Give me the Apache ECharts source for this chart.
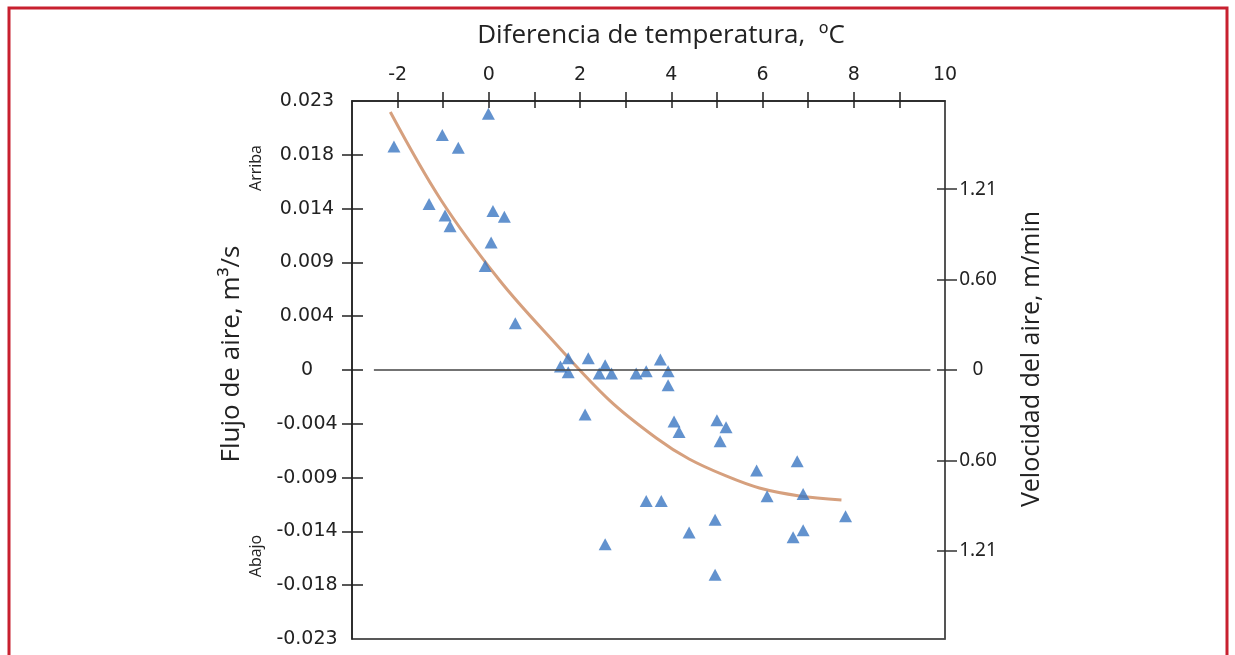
<!DOCTYPE html>
<html lang="es">
<head>
    <meta charset="UTF-8">
    <title>Flujo de aire vs diferencia de temperatura</title>
    <style>
        html, body { margin: 0; padding: 0; background: #fff; }
        #main { width: 1235px; height: 655px; }
    </style>
</head>
<body>
<div id="main"></div>

<script src="https://cdn.jsdelivr.net/npm/echarts@6/dist/echarts.min.js"></script>
<script>
    // puntos medidos (triangulos)
    var tempX = [-2.08, -1.02, -0.67, -0.01, -1.31, -0.96, -0.85, 0.09, 0.34, 0.05, -0.08, 0.58,
        1.57, 1.74, 1.74, 2.18, 2.11, 2.42, 2.55, 2.69, 3.23, 3.45, 3.76, 3.93, 3.93,
        4.06, 4.17, 5.00, 5.20, 5.07, 5.87, 6.10, 6.76, 6.89, 6.89, 6.67, 7.82,
        3.45, 3.78, 4.96, 4.39, 2.55, 4.96];
    var flujoY = [0.0191, 0.0201, 0.0190, 0.0219, 0.0142, 0.0132, 0.0123, 0.0136, 0.0131, 0.0109, 0.0089, 0.0040,
        0.0003, 0.0010, -0.0002, 0.0010, -0.0038, -0.0003, 0.0004, -0.0003, -0.0003, -0.0001, 0.0009, -0.0013, -0.0001,
        -0.0044, -0.0053, -0.0043, -0.0049, -0.0061, -0.0086, -0.0108, -0.0078, -0.0106, -0.0137, -0.0143, -0.0125,
        -0.0112, -0.0112, -0.0128, -0.0139, -0.0149, -0.0175];

    // curva de ajuste
    var curvaX = [-2.16, -1.05, 0.23, 1.39, 2.64, 3.67, 4.39, 5.20, 5.93, 6.81, 7.73];
    var curvaY = [0.02206, 0.01454, 0.00770, 0.00257, -0.00257, -0.00581,
        -0.00761, -0.00906, -0.01009, -0.01077, -0.01112];

    // ejes
    var xTicks = [-2, -1, 0, 1, 2, 3, 4, 5, 6, 7, 8, 9];
    var xLabelVals = [-2, 0, 2, 4, 6, 8, 10];
    var yLabelVals = [-0.023, -0.0184, -0.0138, -0.0092, -0.0046, 0, 0.0046, 0.0092, 0.0138, 0.0184, 0.023];
    var yLabels = ['-0.023', '-0.018', '-0.014', '-0.009', '-0.004', '0', '0.004', '0.009', '0.014', '0.018', '0.023'];
    var yTicks = [-0.0184, -0.0138, -0.0092, -0.0046, 0, 0.0046, 0.0092, 0.0138, 0.0184];
    var velVals = [-1.21, -0.605, 0, 0.605, 1.21];
    var velLabels = ['1.21', '0.60', '0', '0.60', '1.21'];

    var puntos = tempX.map(function (x, i) { return [x, flujoY[i]]; });
    var curva = curvaX.map(function (x, i) { return [x, curvaY[i]]; });

    var chartDom = document.getElementById('main');
    var myChart = echarts.init(chartDom);
    var option;

    var ink = '#222';
    var tickFont = { fontFamily: 'DejaVu Sans', fontSize: 19, color: ink };

    option = {
        animation: false,
        backgroundColor: '#fff',
        grid: {
            left: 352, right: 290, top: 101, bottom: 16,
            show: true, borderColor: ink, borderWidth: 1.5
        },
        xAxis: [
            {
                type: 'value', position: 'top', min: -3, max: 10,
                axisLine: { onZero: false, lineStyle: { color: ink, width: 1.5 } },
                axisTick: { customValues: xTicks, length: 9, lineStyle: { color: ink, width: 1.5 } },
                axisLabel: Object.assign({ customValues: xLabelVals, margin: 16 }, tickFont),
                splitLine: { show: false }
            },
            {
                type: 'value', position: 'top', min: -3, max: 10,
                axisLine: { show: false, onZero: false },
                axisTick: { customValues: xTicks, inside: true, length: 7, lineStyle: { color: ink, width: 1.5 } },
                axisLabel: { show: false },
                splitLine: { show: false }
            }
        ],
        yAxis: [
            {
                type: 'value', position: 'left', min: -0.023, max: 0.023,
                axisLine: { onZero: false, lineStyle: { color: ink, width: 1.5 } },
                axisTick: { customValues: yTicks, length: 10, lineStyle: { color: ink, width: 1.5 } },
                axisLabel: Object.assign({
                    customValues: yLabelVals, margin: 45, align: 'center',
                    formatter: function (v) {
                        return yLabels[Math.round((v + 0.023) / 0.0046)];
                    }
                }, tickFont),
                splitLine: { show: false }
            },
            {
                type: 'value', position: 'left', min: -0.023, max: 0.023,
                axisLine: { show: false, onZero: false },
                axisTick: { customValues: yTicks, inside: true, length: 11, lineStyle: { color: ink, width: 1.5 } },
                axisLabel: { show: false },
                splitLine: { show: false }
            },
            {
                type: 'value', position: 'right', min: -1.8, max: 1.8,
                axisLine: { onZero: false, lineStyle: { color: '#555', width: 1.5 } },
                axisTick: { customValues: velVals, length: 12, lineStyle: { color: '#333', width: 1.5 } },
                axisLabel: {
                    customValues: velVals, margin: 33, align: 'center',
                    fontFamily: 'Noto Sans', fontSize: 19, color: ink,
                    formatter: function (v) {
                        var i = velVals.indexOf(v);
                        return i < 0 ? '' : velLabels[i];
                    }
                },
                splitLine: { show: false }
            },
            {
                type: 'value', position: 'right', min: -1.8, max: 1.8,
                axisLine: { show: false, onZero: false },
                axisTick: { customValues: velVals, inside: true, length: 8, lineStyle: { color: '#333', width: 1.5 } },
                axisLabel: { show: false },
                splitLine: { show: false }
            }
        ],
        series: [
            {
                type: 'line',
                data: curva,
                smooth: 0.35,
                showSymbol: false,
                lineStyle: { color: '#d6a07e', width: 3 },
                z: 2,
                markLine: {
                    silent: true,
                    symbol: 'none',
                    label: { show: false },
                    lineStyle: { color: '#444', width: 1.5, type: 'solid' },
                    data: [[{ coord: [-2.52, 0] }, { coord: [9.68, 0] }]]
                }
            },
            {
                type: 'scatter',
                data: puntos,
                symbol: 'triangle',
                symbolSize: [13, 12],
                itemStyle: { color: '#3b77c2' },
                z: 3
            }
        ],
        graphic: [
            {
                type: 'rect',
                shape: { x: 9, y: 8, width: 1218, height: 700 },
                style: { fill: 'none', stroke: '#c8202f', lineWidth: 3 }
            },
            {
                type: 'text', x: 661, y: 36,
                style: {
                    text: 'Diferencia de temperatura,  ºC', font: '26px "Open Sans"', fill: ink,
                    textAlign: 'center', textVerticalAlign: 'middle', align: 'center', verticalAlign: 'middle'
                }
            },
            {
                type: 'text', x: 232, y: 354, rotation: Math.PI / 2,
                style: {
                    text: 'Flujo de aire, m³/s', font: '26px "Open Sans"', fill: ink,
                    textAlign: 'center', textVerticalAlign: 'middle', align: 'center', verticalAlign: 'middle'
                }
            },
            {
                type: 'text', x: 1032, y: 359, rotation: Math.PI / 2,
                style: {
                    text: 'Velocidad del aire, m/min', font: '25px "Open Sans"', fill: ink,
                    textAlign: 'center', textVerticalAlign: 'middle', align: 'center', verticalAlign: 'middle'
                }
            },
            {
                type: 'text', x: 256, y: 168, rotation: Math.PI / 2,
                style: {
                    text: 'Arriba', font: '16px "Open Sans"', fill: ink,
                    textAlign: 'center', textVerticalAlign: 'middle', align: 'center', verticalAlign: 'middle'
                }
            },
            {
                type: 'text', x: 256, y: 556, rotation: Math.PI / 2,
                style: {
                    text: 'Abajo', font: '16px "Open Sans"', fill: ink,
                    textAlign: 'center', textVerticalAlign: 'middle', align: 'center', verticalAlign: 'middle'
                }
            }
        ]
    };

    option && myChart.setOption(option);
</script>
</body>
</html>
